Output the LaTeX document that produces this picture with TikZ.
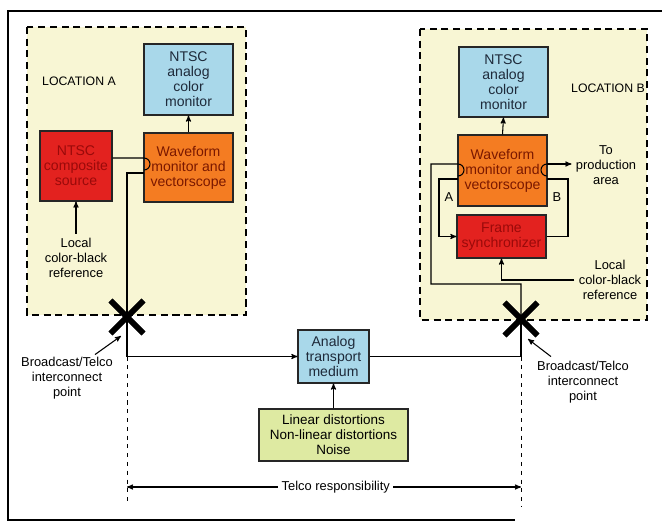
\documentclass[tikz,border=0pt]{standalone}
\usepackage{fontspec}
\setmainfont{Liberation Sans}
\usetikzlibrary{arrows,calc,shapes.misc}

\definecolor{zonefill}{HTML}{F8F6D4}
\definecolor{monblue}{HTML}{A9D8EA}
\definecolor{montext}{HTML}{1E2A3A}
\definecolor{wfmorange}{HTML}{F47C22}
\definecolor{wfmtext}{HTML}{7A1800}
\definecolor{srcred}{HTML}{E3221F}
\definecolor{srctext}{HTML}{9A0A0A}
\definecolor{noisegreen}{HTML}{DEEAA2}

\begin{document}
\begin{tikzpicture}[x=0.03cm,y=-0.03cm,>=stealth',line width=0.9pt,
  font=\fontsize{11}{12.8}\selectfont,
  unit box/.style={draw=black!85,line width=0.9pt,align=center,inner sep=1pt,
    minimum width=2.67cm,font=\fontsize{12}{12.8}\selectfont},
  zone/.style={draw,fill=zonefill,line width=1.1pt,dash pattern=on 6pt off 4pt},
  splice/.style={draw,cross out,line width=4.8pt,minimum size=0.82cm,inner sep=0pt},
  guide/.style={line width=0.8pt,dash pattern=on 3.5pt off 4pt}]

\useasboundingbox (0,0) rectangle (662,525);
\draw[line width=1.4pt] (662,11) -- (8,11) -- (8,520) -- (515,520);

% the two locations
\path[zone] (27,27) rectangle (246,315);
\path[zone] (420,29) rectangle (647,320);
\node[font=\fontsize{10.5}{12}\selectfont](labA) at (79,81) {LOCATION A};
\node[font=\fontsize{10.5}{12}\selectfont](labB) at (608,88) {LOCATION B};

\node[unit box,fill=monblue,text=montext,minimum height=2.13cm](monA) at (188.5,79.5) {NTSC\\analog\\color\\monitor};
\node[unit box,fill=wfmorange,text=wfmtext,minimum height=2.07cm](wfmA) at (188.5,167.5) {Waveform\\monitor and\\vectorscope};
\node[unit box,fill=srcred,text=srctext,minimum width=2.16cm,minimum height=2.1cm](srcA) at (76,166) {NTSC\\composite\\source};
\node[align=center](refA) at (76,258) {Local\\color-black\\reference};

\node[unit box,fill=monblue,text=montext,minimum height=2.1cm](monB) at (503.5,82) {NTSC\\analog\\color\\monitor};
\node[unit box,fill=wfmorange,text=wfmtext,minimum height=2.13cm](wfmB) at (502.5,170.5) {Waveform\\monitor and\\vectorscope};
\node[unit box,fill=srcred,text=srctext,minimum height=1.29cm](syncB) at (501.5,236.5) {Frame\\synchronizer};
\node[align=center](refB) at (610,280) {Local\\color-black\\reference};
\node[align=center](prod) at (606,165) {To\\production\\area};
\node(chA) at (449,197) {A};
\node(chB) at (557,197) {B};

% telco part
\node[unit box,fill=monblue,text=montext,minimum width=2.13cm,minimum height=1.59cm](trans) at (333.5,356.5) {Analog\\transport\\medium};
\node[unit box,fill=noisegreen,text=black,minimum width=4.47cm,minimum height=1.56cm,font=\fontsize{11.5}{12.8}\selectfont](noise) at (333.5,435) {Linear distortions\\Non-linear distortions\\Noise};
\node[align=center](bcA) at (67,378) {Broadcast/Telco\\interconnect\\point};
\node[align=center](bcB) at (583,382) {Broadcast/Telco\\interconnect\\point};

\coordinate (inA) at (144,158);
\coordinate (outA) at (144,173);
\coordinate (inB) at (458,164);
\coordinate (outB) at (458,179);
\coordinate (thruB) at (547,164);
\coordinate (backB) at (547,179);
\coordinate (cornerB) at (431,284);
\coordinate (tailA) at (127,502);
\coordinate (tailB) at (521,507);
\coordinate (telA) at (127,487);
\coordinate (telB) at (521,487);

\node[splice](xA) at (127,317) {};
\node[splice](xB) at (521,319) {};

\draw (srcA.east |- inA) -- (inA) arc(90:-90:0.18cm);
\draw (outA) -| (xA.center);
\draw[->] (xA.center) |- (trans.west);
\draw[guide] (xA.center |- trans.west) -- (tailA);
\draw[->] (wfmA.north) -- (monA.south);
\draw[->] (refA.north) -- (srcA.south);

\draw[->] (noise.north) -- (trans.south);
\draw (trans.east) -| (xB.center);
\draw[guide] (xB.center |- trans.east) -- (tailB);

\draw[->] (wfmB.north) -- (monB.south);
\draw (xB.center) |- (cornerB) |- (inB) arc(90:-90:0.18cm);
\draw (thruB) arc(90:270:0.18cm);
\draw[->] (thruB) -- (prod.west |- thruB);
\draw[->] (outB) -- ++(-19,0) |- (syncB.west);
\draw (backB) -- ++(21,0) |- (syncB.east);
\draw[->] (refB.west) -| (syncB.south);

\draw[->] ($(bcA.north)+(28,2)$) -- ($(xA.center)+(-6,19)$);
\draw[->] ($(bcB.north)+(-32,0)$) -- ($(xB.center)+(7,20)$);
\draw[<->] (telA) -- node[pos=0.53,fill=white,inner sep=3pt]{Telco responsibility} (telB);

% crosses on top
\node[splice] at (xA) {};
\node[splice] at (xB) {};

\end{tikzpicture}
\end{document}
